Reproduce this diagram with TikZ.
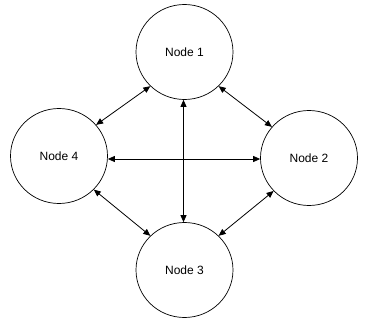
\documentclass[tikz,border=0pt]{standalone}
\usepackage{fontspec}
\setmainfont{Liberation Sans}
\usepackage{tikz}
\usetikzlibrary{arrows.meta,shapes.geometric,positioning}

\begin{document}
\begin{tikzpicture}[x=1pt,y=-1pt,>={Triangle[length=7pt,width=6pt]}]
  \useasboundingbox (0,0) rectangle (367,321);
  \tikzset{netnode/.style={draw,ellipse,line width=0.7pt,minimum width=97pt,minimum height=95pt,inner sep=0pt,font=\fontsize{12}{14}\selectfont}}
  \node[netnode] (n1) at (184.5,52) {Node 1};
  \node[netnode] (n4) at (59,156) {Node 4};
  \node[netnode] (n2) at (309,158) {Node 2};
  \node[netnode] (n3) at (184.5,270) {Node 3};

  \draw[<->,line width=0.8pt] (n1.225) to (n4.40);
  \draw[<->,line width=0.8pt] (n1.315) to (n2.140);
  \draw[<->,line width=0.8pt] (n4.316) to (n3.135);
  \draw[<->,line width=0.8pt] (n2.223) to (n3.45);

  \draw[<->,line width=0.8pt] (n4.east |- 0,159) to (n2.west |- 0,159);
  \draw[<->,line width=0.8pt] (n1.south -| 183.5,0) to (n3.north -| 183.5,0);
\end{tikzpicture}
\end{document}
